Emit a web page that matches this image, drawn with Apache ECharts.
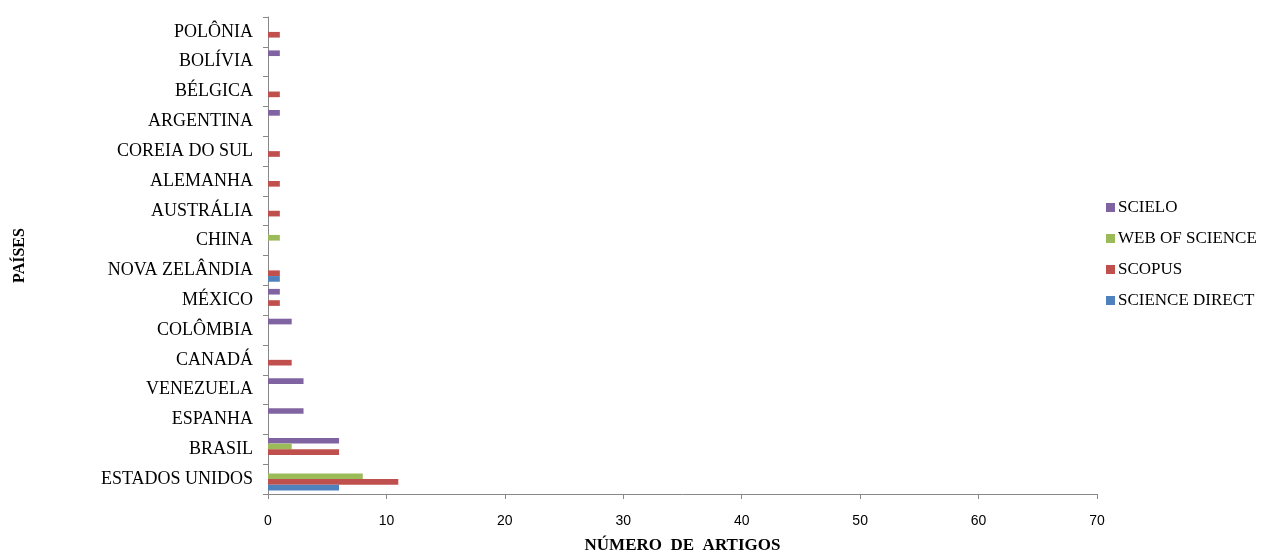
<!DOCTYPE html>
<html><head><meta charset="utf-8">
<script src="https://cdn.jsdelivr.net/npm/echarts@6/dist/echarts.min.js"></script>
<style>html,body{margin:0;padding:0;background:#fff;}#c{width:1272px;height:554px;}</style>
</head><body><div id="c"></div>
<script>
const categories = ['ESTADOS UNIDOS','BRASIL','ESPANHA','VENEZUELA','CANADÁ','COLÔMBIA','MÉXICO','NOVA ZELÂNDIA','CHINA','AUSTRÁLIA','ALEMANHA','COREIA DO SUL','ARGENTINA','BÉLGICA','BOLÍVIA','POLÔNIA'];
const scienceDirect = [6,0,0,0,0,0,0,1,0,0,0,0,0,0,0,0];
const scopus        = [11,6,0,0,2,0,1,1,0,1,1,1,0,1,0,1];
const webOfScience  = [8,2,0,0,0,0,0,0,1,0,0,0,0,0,0,0];
const scielo        = [0,6,3,3,0,2,1,0,0,0,0,0,1,0,1,0];
const xTicks = [0,10,20,30,40,50,60,70];

const font = '"Liberation Serif","Times New Roman",serif';
const chart = echarts.init(document.getElementById('c'), null, {renderer:'canvas'});
function ser(name, data, color){
  return {name, type:'bar', data, itemStyle:{color}, barGap:'0%', barCategoryGap:'24%'};
}
chart.setOption({
  animation:false,
  textStyle:{fontFamily:font},
  grid:{left:268, right:175, top:17, bottom:60, containLabel:false, outerBoundsMode:'none'},
  legend:{
    orient:'vertical', left:1101, top:194, itemWidth:9, itemHeight:9, itemGap:14,
    icon:'rect',
    data:['SCIELO','WEB OF SCIENCE','SCOPUS','SCIENCE DIRECT'],
    textStyle:{fontFamily:font, fontSize:17, color:'#000', padding:[0,0,0,-2]}
  },
  xAxis:{
    type:'value', min:0, max:70, interval:10,
    name:'NÚMERO  DE  ARTIGOS', nameLocation:'middle', nameGap:43,
    nameTextStyle:{fontFamily:font, fontSize:17, fontWeight:'bold', color:'#000'},
    axisLine:{show:true, lineStyle:{color:'#888'}},
    axisTick:{show:true, length:5, lineStyle:{color:'#888'}},
    splitLine:{show:false},
    axisLabel:{fontFamily:'"Liberation Sans",Arial,sans-serif', fontSize:14, color:'#000', margin:20,
      formatter:v=> xTicks.includes(v) ? String(v) : ''}
  },
  yAxis:{
    type:'category', data:categories,
    name:'PAÍSES', nameLocation:'middle', nameGap:240, nameRotate:90,
    nameTextStyle:{fontFamily:font, fontSize:16, fontWeight:'bold', color:'#000'},
    axisLine:{show:true, lineStyle:{color:'#888'}},
    axisTick:{show:true, length:5, lineStyle:{color:'#888'}},
    axisLabel:{fontFamily:font, fontSize:18, color:'#000', margin:15}
  },
  series:[
    ser('SCIELO', scielo, '#8064A2'),
    ser('WEB OF SCIENCE', webOfScience, '#9BBB59'),
    ser('SCOPUS', scopus, '#C0504D'),
    ser('SCIENCE DIRECT', scienceDirect, '#4F81BD')
  ]
});
</script></body></html>
